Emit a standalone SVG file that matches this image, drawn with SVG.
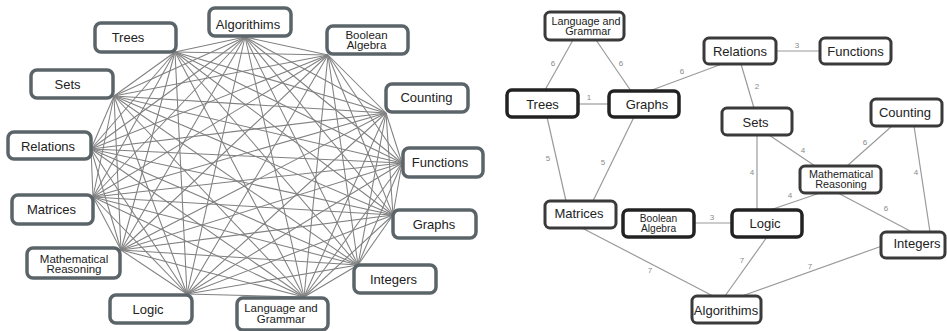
<svg xmlns="http://www.w3.org/2000/svg" width="947" height="331" viewBox="0 0 947 331">
<style>
.e{stroke:#808080;stroke-width:1.05;fill:none}
.e2{stroke:#9a9a9a;stroke-width:1.2;fill:none}
.nl{fill:#fff;stroke:#5b6569;stroke-width:3.5}
.nr{fill:#fff;stroke:#3a3a3a;stroke-width:3}
.nd{fill:#fff;stroke:#222;stroke-width:3.5}
text{font-family:"Liberation Sans",Arial,sans-serif;fill:#222;text-anchor:middle}
.t{font-size:13px}
.s{font-size:11.5px}
.sr{font-size:10.8px}
.sb{font-size:10.2px}
.w{font-size:8px;fill:#8a8a8a}
</style>
<rect width="947" height="331" fill="#fff"/>
<g id="connectors-left">
<line class="e" x1="245" y1="37" x2="328" y2="55"/><line class="e" x1="245" y1="37" x2="386" y2="113"/><line class="e" x1="245" y1="37" x2="402" y2="163"/><line class="e" x1="245" y1="37" x2="393" y2="215"/><line class="e" x1="245" y1="37" x2="358" y2="265"/><line class="e" x1="245" y1="37" x2="304" y2="297"/><line class="e" x1="245" y1="37" x2="187" y2="294"/><line class="e" x1="245" y1="37" x2="121" y2="250"/><line class="e" x1="245" y1="37" x2="93" y2="197"/><line class="e" x1="245" y1="37" x2="91" y2="149"/><line class="e" x1="245" y1="37" x2="114" y2="96"/><line class="e" x1="245" y1="37" x2="175" y2="52"/>
<line class="e" x1="328" y1="55" x2="386" y2="113"/><line class="e" x1="328" y1="55" x2="402" y2="163"/><line class="e" x1="328" y1="55" x2="393" y2="215"/><line class="e" x1="328" y1="55" x2="358" y2="265"/><line class="e" x1="328" y1="55" x2="304" y2="297"/><line class="e" x1="328" y1="55" x2="187" y2="294"/><line class="e" x1="328" y1="55" x2="121" y2="250"/><line class="e" x1="328" y1="55" x2="93" y2="197"/><line class="e" x1="328" y1="55" x2="91" y2="149"/><line class="e" x1="328" y1="55" x2="114" y2="96"/><line class="e" x1="328" y1="55" x2="175" y2="52"/>
<line class="e" x1="386" y1="113" x2="402" y2="163"/><line class="e" x1="386" y1="113" x2="393" y2="215"/><line class="e" x1="386" y1="113" x2="358" y2="265"/><line class="e" x1="386" y1="113" x2="304" y2="297"/><line class="e" x1="386" y1="113" x2="187" y2="294"/><line class="e" x1="386" y1="113" x2="121" y2="250"/><line class="e" x1="386" y1="113" x2="93" y2="197"/><line class="e" x1="386" y1="113" x2="91" y2="149"/><line class="e" x1="386" y1="113" x2="114" y2="96"/><line class="e" x1="386" y1="113" x2="175" y2="52"/>
<line class="e" x1="402" y1="163" x2="393" y2="215"/><line class="e" x1="402" y1="163" x2="358" y2="265"/><line class="e" x1="402" y1="163" x2="304" y2="297"/><line class="e" x1="402" y1="163" x2="187" y2="294"/><line class="e" x1="402" y1="163" x2="121" y2="250"/><line class="e" x1="402" y1="163" x2="93" y2="197"/><line class="e" x1="402" y1="163" x2="91" y2="149"/><line class="e" x1="402" y1="163" x2="114" y2="96"/><line class="e" x1="402" y1="163" x2="175" y2="52"/>
<line class="e" x1="393" y1="215" x2="358" y2="265"/><line class="e" x1="393" y1="215" x2="304" y2="297"/><line class="e" x1="393" y1="215" x2="187" y2="294"/><line class="e" x1="393" y1="215" x2="121" y2="250"/><line class="e" x1="393" y1="215" x2="93" y2="197"/><line class="e" x1="393" y1="215" x2="91" y2="149"/><line class="e" x1="393" y1="215" x2="114" y2="96"/><line class="e" x1="393" y1="215" x2="175" y2="52"/>
<line class="e" x1="358" y1="265" x2="304" y2="297"/><line class="e" x1="358" y1="265" x2="187" y2="294"/><line class="e" x1="358" y1="265" x2="121" y2="250"/><line class="e" x1="358" y1="265" x2="93" y2="197"/><line class="e" x1="358" y1="265" x2="91" y2="149"/><line class="e" x1="358" y1="265" x2="114" y2="96"/><line class="e" x1="358" y1="265" x2="175" y2="52"/>
<line class="e" x1="304" y1="297" x2="187" y2="294"/><line class="e" x1="304" y1="297" x2="121" y2="250"/><line class="e" x1="304" y1="297" x2="93" y2="197"/><line class="e" x1="304" y1="297" x2="91" y2="149"/><line class="e" x1="304" y1="297" x2="114" y2="96"/><line class="e" x1="304" y1="297" x2="175" y2="52"/>
<line class="e" x1="187" y1="294" x2="121" y2="250"/><line class="e" x1="187" y1="294" x2="93" y2="197"/><line class="e" x1="187" y1="294" x2="91" y2="149"/><line class="e" x1="187" y1="294" x2="114" y2="96"/><line class="e" x1="187" y1="294" x2="175" y2="52"/>
<line class="e" x1="121" y1="250" x2="93" y2="197"/><line class="e" x1="121" y1="250" x2="91" y2="149"/><line class="e" x1="121" y1="250" x2="114" y2="96"/><line class="e" x1="121" y1="250" x2="175" y2="52"/>
<line class="e" x1="93" y1="197" x2="91" y2="149"/><line class="e" x1="93" y1="197" x2="114" y2="96"/><line class="e" x1="93" y1="197" x2="175" y2="52"/>
<line class="e" x1="91" y1="149" x2="114" y2="96"/><line class="e" x1="91" y1="149" x2="175" y2="52"/>
<line class="e" x1="114" y1="96" x2="175" y2="52"/>
</g>
<g id="left-nodes">
<g id="l-trees"><rect class="nl" x="95" y="23" width="81" height="29" rx="6"/><text class="t" x="128" y="42">Trees</text></g>
<g id="l-algorithms"><rect class="nl" x="209" y="8" width="82" height="28" rx="6"/><text class="t" x="248" y="28.5">Algorithims</text></g>
<g id="l-boolean"><rect class="nl" x="327" y="26" width="81" height="28" rx="6"/><text class="s" x="366.5" y="38.5">Boolean</text><text class="s" x="366.5" y="49">Algebra</text></g>
<g id="l-sets"><rect class="nl" x="31" y="70" width="82" height="28" rx="6"/><text class="t" x="67.5" y="89">Sets</text></g>
<g id="l-counting"><rect class="nl" x="386" y="84" width="82" height="28" rx="6"/><text class="t" x="426.5" y="101.5">Counting</text></g>
<g id="l-relations"><rect class="nl" x="8" y="132" width="83" height="27" rx="6"/><text class="t" x="48" y="150.5">Relations</text></g>
<g id="l-functions"><rect class="nl" x="403" y="148" width="80" height="29" rx="6"/><text class="t" x="440" y="166.5">Functions</text></g>
<g id="l-matrices"><rect class="nl" x="12" y="195" width="81" height="29" rx="6"/><text class="t" x="51.5" y="214">Matrices</text></g>
<g id="l-graphs"><rect class="nl" x="393" y="210" width="83" height="28" rx="6"/><text class="t" x="434" y="229">Graphs</text></g>
<g id="l-math"><rect class="nl" x="27" y="248" width="93" height="30" rx="6"/><text class="s" x="74" y="262.5">Mathematical</text><text class="s" x="74" y="273">Reasoning</text></g>
<g id="l-integers"><rect class="nl" x="354" y="265" width="82" height="28" rx="6"/><text class="t" x="393.5" y="283.5">Integers</text></g>
<g id="l-logic"><rect class="nl" x="110" y="295" width="82" height="28" rx="6"/><text class="t" x="148" y="313.5">Logic</text></g>
<g id="l-language"><rect class="nl" x="237" y="298" width="91" height="32" rx="6"/><text class="s" x="281" y="311.5">Language and</text><text class="s" x="281" y="323">Grammar</text></g>
</g>
<g id="connectors-right">
<line class="e2" x1="573" y1="40" x2="545" y2="90"/><text class="w" x="553" y="66">6</text>
<line class="e2" x1="596" y1="40" x2="631" y2="91"/><text class="w" x="621" y="66">6</text>
<line class="e2" x1="578" y1="104" x2="609" y2="104"/><text class="w" x="589" y="100">1</text>
<line class="e2" x1="652" y1="90" x2="722" y2="64"/><text class="w" x="682" y="74">6</text>
<line class="e2" x1="776" y1="51" x2="820" y2="51"/><text class="w" x="797" y="48">3</text>
<line class="e2" x1="741" y1="64" x2="754" y2="108"/><text class="w" x="757" y="88.5">2</text>
<line class="e2" x1="769" y1="135" x2="815" y2="166"/><text class="w" x="803" y="153">4</text>
<line class="e2" x1="892" y1="126" x2="847" y2="166"/><text class="w" x="865" y="144.5">6</text>
<line class="e2" x1="914" y1="126" x2="930" y2="232"/><text class="w" x="916" y="174.5">4</text>
<line class="e2" x1="757" y1="135" x2="757" y2="210"/><text class="w" x="752" y="174.5">4</text>
<line class="e2" x1="820" y1="193" x2="770" y2="210"/><text class="w" x="790" y="198">4</text>
<line class="e2" x1="838" y1="193" x2="912" y2="232"/><text class="w" x="886" y="211">6</text>
<line class="e2" x1="694" y1="223" x2="732" y2="223"/><text class="w" x="712" y="220">3</text>
<line class="e2" x1="767" y1="237" x2="725" y2="296"/><text class="w" x="742" y="263">7</text>
<line class="e2" x1="882" y1="246" x2="742" y2="296"/><text class="w" x="810" y="269">7</text>
<line class="e2" x1="582" y1="228" x2="713" y2="296"/><text class="w" x="650" y="273">7</text>
<line class="e2" x1="547" y1="117" x2="566" y2="201"/><text class="w" x="548" y="161">5</text>
<line class="e2" x1="634" y1="117" x2="593" y2="201"/><text class="w" x="603" y="164.5">5</text>
</g>
<g id="right-nodes">
<g id="r-language"><rect class="nr" x="545" y="12" width="79" height="28" rx="5"/><text class="sr" x="586" y="24.5">Language and</text><text class="sr" x="588" y="35">Grammar</text></g>
<g id="r-relations"><rect class="nr" x="704" y="38" width="72" height="26" rx="5"/><text class="t" x="740" y="55.5">Relations</text></g>
<g id="r-functions"><rect class="nr" x="820" y="38" width="71" height="26" rx="5"/><text class="t" x="855.5" y="56">Functions</text></g>
<g id="r-trees"><rect class="nd" x="507" y="90" width="71" height="27" rx="5"/><text class="t" x="542.5" y="108.5">Trees</text></g>
<g id="r-graphs"><rect class="nd" x="609" y="91" width="70" height="26" rx="5"/><text class="t" x="647" y="108.5">Graphs</text></g>
<g id="r-sets"><rect class="nr" x="722" y="108" width="70" height="27" rx="5"/><text class="t" x="755.5" y="126.5">Sets</text></g>
<g id="r-counting"><rect class="nr" x="871" y="99" width="71" height="27" rx="5"/><text class="t" x="905" y="116.5">Counting</text></g>
<g id="r-math"><rect class="nr" x="800" y="166" width="81" height="27" rx="5"/><text class="sr" x="841" y="177.5">Mathematical</text><text class="sr" x="841" y="188">Reasoning</text></g>
<g id="r-matrices"><rect class="nr" x="545" y="201" width="71" height="27" rx="5"/><text class="t" x="579" y="218">Matrices</text></g>
<g id="r-boolean"><rect class="nd" x="623" y="210" width="71" height="27" rx="5"/><text class="sb" x="658.5" y="221.5">Boolean</text><text class="sb" x="658.5" y="232">Algebra</text></g>
<g id="r-logic"><rect class="nd" x="732" y="210" width="70" height="27" rx="5"/><text class="t" x="765" y="228">Logic</text></g>
<g id="r-integers"><rect class="nr" x="881" y="232" width="64" height="26" rx="5"/><text class="t" x="917" y="248">Integers</text></g>
<g id="r-algorithms"><rect class="nr" x="692" y="296" width="69" height="27" rx="5"/><text class="t" x="726" y="314.5">Algorithims</text></g>
</g>
</svg>
